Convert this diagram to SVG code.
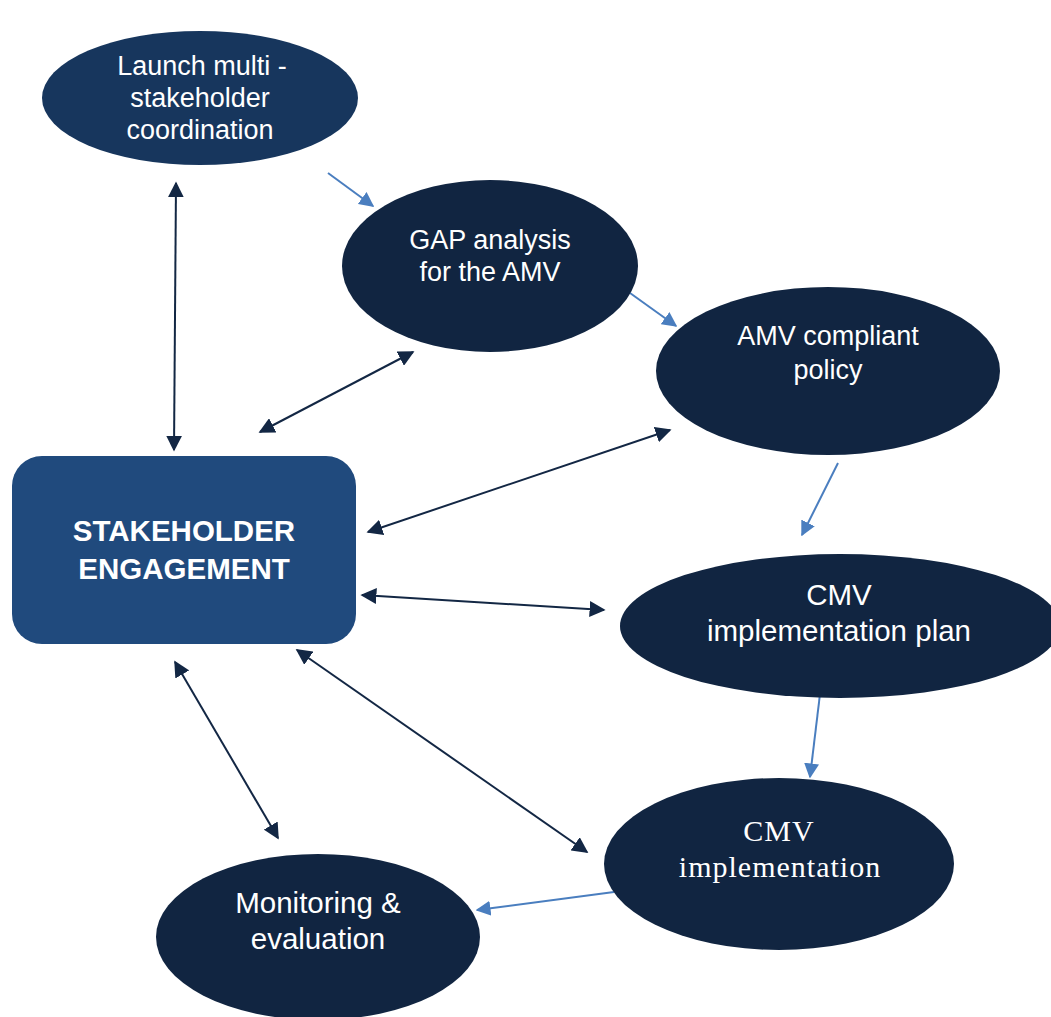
<svg xmlns="http://www.w3.org/2000/svg" width="1051" height="1017" viewBox="0 0 1051 1017">
<defs>
<marker id="ad" viewBox="0 0 10 10" refX="9" refY="5" markerWidth="8" markerHeight="8" orient="auto-start-reverse" markerUnits="strokeWidth"><path d="M0,0 L10,5 L0,10 z" fill="#132744"/></marker>
<marker id="ab" viewBox="0 0 10 10" refX="9" refY="5" markerWidth="7.5" markerHeight="7.5" orient="auto" markerUnits="strokeWidth"><path d="M0,0 L10,5 L0,10 z" fill="#4a7ebf"/></marker>
<style>
.n{fill:#112541}
.t{fill:#fff;font-family:"Liberation Sans",Arial,sans-serif;font-size:27px;text-anchor:middle}
.u{font-size:29.5px}
.s{fill:#fff;font-family:"Liberation Serif","Times New Roman",serif;font-size:30px;letter-spacing:1px;text-anchor:middle}
.d{stroke:#132744;stroke-width:2;fill:none}
.b{stroke:#4a7ebf;stroke-width:2;fill:none}
</style>
</defs>
<rect width="1051" height="1017" fill="#fff"/>
<g id="connectors">
<line class="d" x1="176" y1="183" x2="174" y2="450" marker-start="url(#ad)" marker-end="url(#ad)"/>
<line class="d" x1="413" y1="352" x2="260" y2="432" marker-start="url(#ad)" marker-end="url(#ad)"/>
<line class="d" x1="670" y1="430" x2="368" y2="532" marker-start="url(#ad)" marker-end="url(#ad)"/>
<line class="d" x1="362" y1="595" x2="604" y2="610" marker-start="url(#ad)" marker-end="url(#ad)"/>
<line class="d" x1="297" y1="650" x2="587" y2="852" marker-start="url(#ad)" marker-end="url(#ad)"/>
<line class="d" x1="175" y1="662" x2="278" y2="838" marker-start="url(#ad)" marker-end="url(#ad)"/>
<line class="b" x1="328" y1="173" x2="373" y2="206" marker-end="url(#ab)"/>
<line class="b" x1="630" y1="293" x2="676" y2="326" marker-end="url(#ab)"/>
<line class="b" x1="838" y1="463" x2="802" y2="535" marker-end="url(#ab)"/>
<line class="b" x1="820" y1="694" x2="810" y2="777" marker-end="url(#ab)"/>
<line class="b" x1="614" y1="892" x2="477" y2="910" marker-end="url(#ab)"/>
</g>
<g id="launch">
<ellipse cx="200" cy="98" rx="158" ry="67" fill="#17365d"/>
<text class="t" x="202" y="75">Launch multi -</text>
<text class="t" x="200" y="107">stakeholder</text>
<text class="t" x="200" y="139">coordination</text>
</g>
<g id="gap">
<ellipse class="n" cx="490" cy="266" rx="148" ry="86"/>
<text class="t" x="490" y="249">GAP analysis</text>
<text class="t" x="490" y="281">for the AMV</text>
</g>
<g id="amv">
<ellipse class="n" cx="828" cy="371" rx="172" ry="84"/>
<text class="t" x="828" y="345">AMV compliant</text>
<text class="t" x="828" y="379">policy</text>
</g>
<g id="plan">
<ellipse class="n" cx="840" cy="626" rx="220" ry="72"/>
<text class="t u" x="839" y="605">CMV</text>
<text class="t u" x="839" y="641">implementation plan</text>
</g>
<g id="impl">
<ellipse class="n" cx="779" cy="864" rx="175" ry="86"/>
<text class="s" x="779" y="841">CMV</text>
<text class="s" x="780" y="877">implementation</text>
</g>
<g id="monitoring">
<ellipse class="n" cx="318" cy="937" rx="162" ry="83"/>
<text class="t u" x="318" y="913">Monitoring &amp;</text>
<text class="t u" x="318" y="949">evaluation</text>
</g>
<g id="engagement">
<rect x="12" y="456" width="344" height="188" rx="30" fill="#204a7d"/>
<text class="t u" x="184" y="541" style="font-weight:bold">STAKEHOLDER</text>
<text class="t u" x="184" y="579" style="font-weight:bold">ENGAGEMENT</text>
</g>
</svg>
